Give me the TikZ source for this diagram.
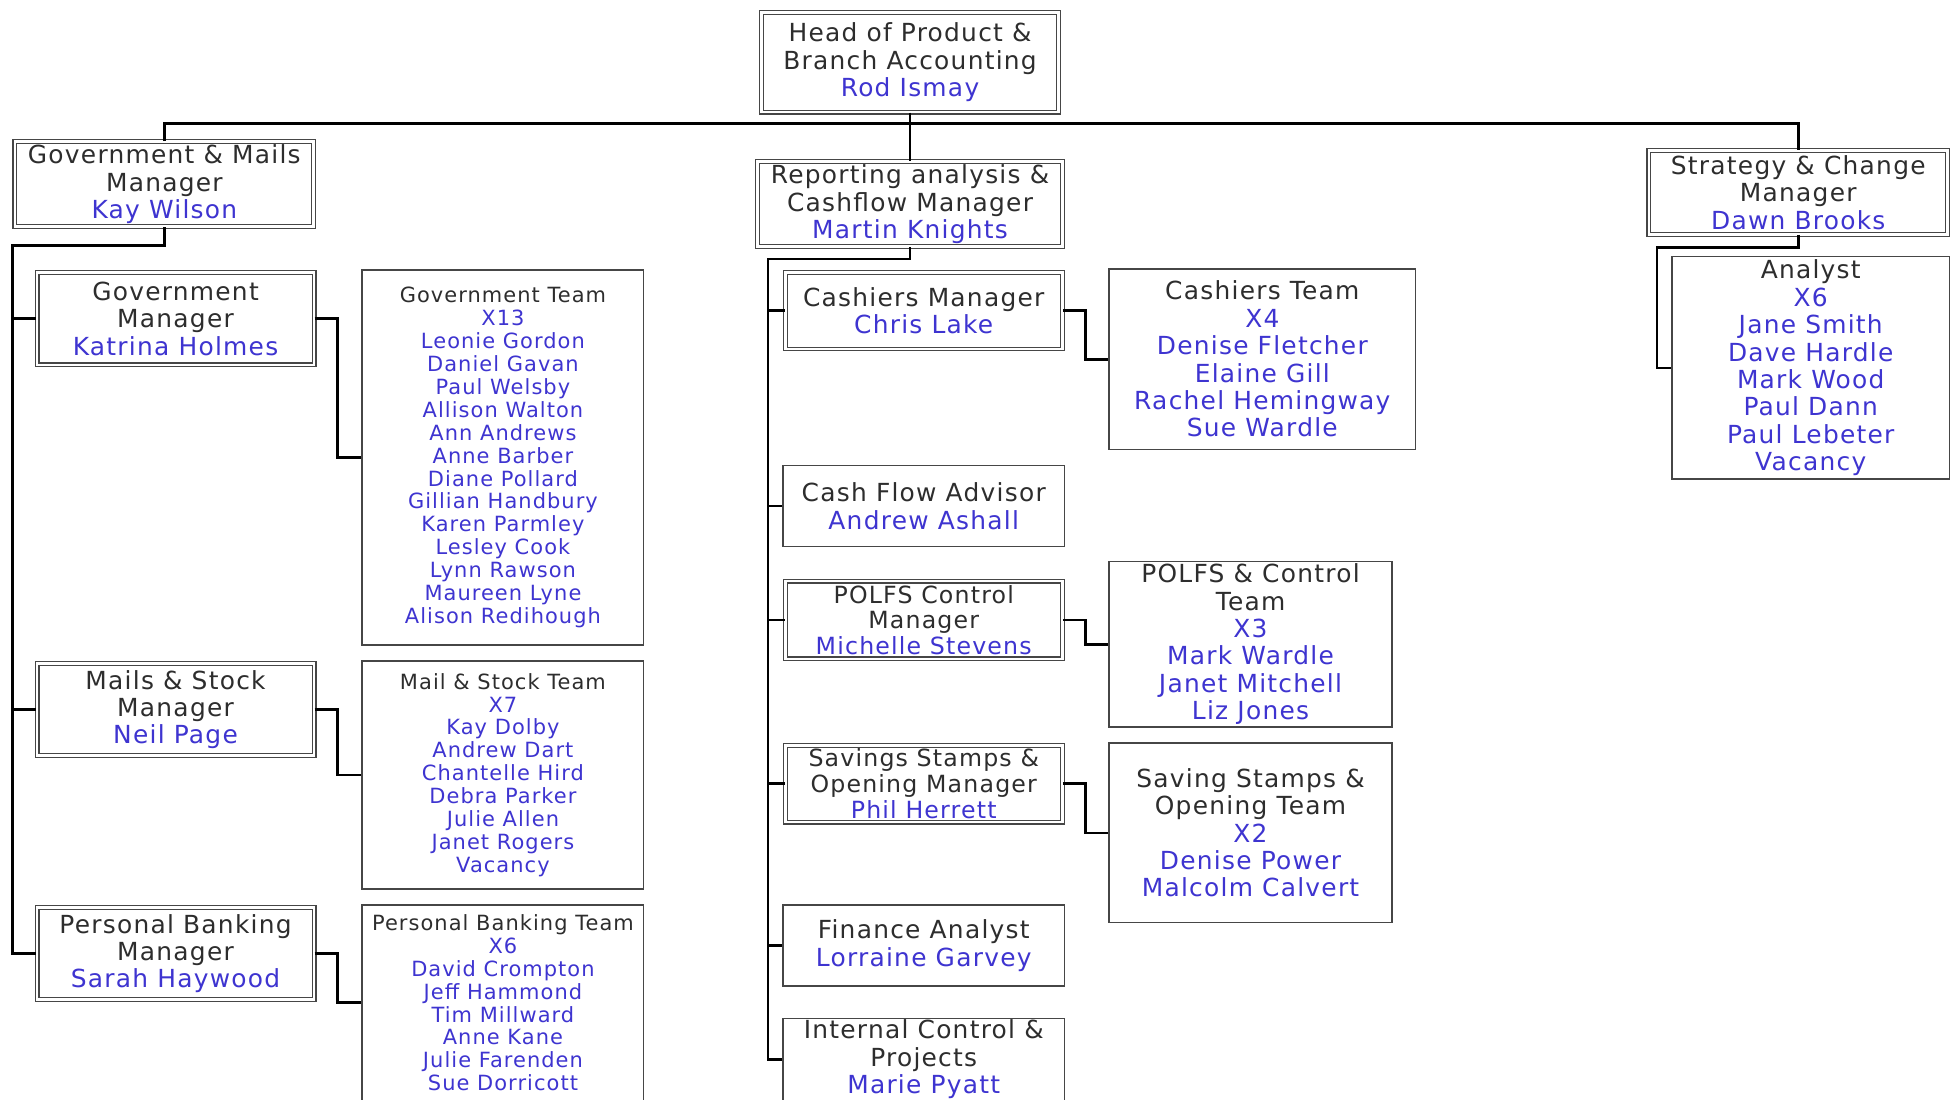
\documentclass[tikz,border=0pt]{standalone}
\usepackage{fontspec}
\setmainfont[LetterSpace=5]{DejaVu Sans}
\usetikzlibrary{positioning,calc}
\definecolor{boxgray}{RGB}{70,70,70}
\definecolor{txtgray}{RGB}{45,45,45}
\definecolor{nameblue}{RGB}{62,52,208}
\newcommand{\nm}[1]{\textcolor{nameblue}{#1}}
\newcommand{\hd}[1]{\textcolor{txtgray}{#1}}
\tikzset{
  dbox/.style={draw=boxgray, line width=0.55pt, double=white, double distance=1.3pt, align=center, inner sep=0pt, text=txtgray},
  sbox/.style={draw=boxgray, line width=0.8pt, align=center, inner sep=0pt, text=txtgray},
  team/.style={sbox, text=nameblue},
  big/.style={font=\fontsize{12}{13.2}\selectfont},
  mid/.style={font=\fontsize{11.4}{12.3}\selectfont},
  small/.style={font=\fontsize{10.1}{11.04}\selectfont},
  link/.style={line width=1.3pt, black},
}
\begin{document}
\begin{tikzpicture}[x=0.6pt, y=-0.6pt]
\useasboundingbox (0,0) rectangle (1568,883);

% top level
\node[dbox,big,minimum width=143pt,minimum height=48pt] (head) at (731,50) {Head of Product \&\\Branch Accounting\\\nm{Rod Ismay}};
\node[dbox,big,minimum width=144pt,minimum height=41pt] (gm) at (132,148) {Government \& Mails\\Manager\\\nm{Kay Wilson}};
\node[dbox,big,minimum width=147pt,minimum height=41pt] (rep) at (731,164) {Reporting analysis \&\\Cashflow Manager\\\nm{Martin Knights}};
\node[dbox,big,minimum width=144pt,minimum height=40.5pt] (sc) at (1444.5,154.5) {Strategy \& Change\\Manager\\\nm{Dawn Brooks}};

% government and mails
\node[dbox,big,minimum width=133.5pt,minimum height=44.5pt] (g1) at (141,256) {Government\\Manager\\\nm{Katrina Holmes}};
\node[dbox,big,minimum width=133.5pt,minimum height=44.5pt] (g2) at (141,570) {Mails \& Stock\\Manager\\\nm{Neil Page}};
\node[dbox,big,minimum width=133.5pt,minimum height=44.5pt] (g3) at (141,766) {Personal Banking\\Manager\\\nm{Sarah Haywood}};

\node[team,small,minimum width=135.6pt,minimum height=180.6pt] (t1) at (404,367.5) {\hd{Government Team}\\X13\\Leonie Gordon\\Daniel Gavan\\Paul Welsby\\Allison Walton\\Ann Andrews\\Anne Barber\\Diane Pollard\\Gillian Handbury\\Karen Parmley\\Lesley Cook\\Lynn Rawson\\Maureen Lyne\\Alison Redihough};
\node[team,small,minimum width=135.6pt,minimum height=109.8pt] (t2) at (404,622.5) {\hd{Mail \& Stock Team}\\X7\\Kay Dolby\\Andrew Dart\\Chantelle Hird\\Debra Parker\\Julie Allen\\Janet Rogers\\Vacancy};
\node[team,small,minimum width=135.6pt,minimum height=94.2pt] (t3) at (404,805.5) {\hd{Personal Banking Team}\\X6\\David Crompton\\Jeff Hammond\\Tim Millward\\Anne Kane\\Julie Farenden\\Sue Dorricott};

% reporting and cashflow
\node[dbox,big,minimum width=133.5pt,minimum height=37pt] (c1) at (742,249.5) {Cashiers Manager\\\nm{Chris Lake}};
\node[sbox,big,minimum width=135.6pt,minimum height=39pt] (c2) at (742,406.5) {Cash Flow Advisor\\\nm{Andrew Ashall}};
\node[dbox,mid,minimum width=133.5pt,minimum height=37.5pt] (c3) at (742,498) {POLFS Control\\Manager\\\nm{Michelle Stevens}};
\node[dbox,mid,minimum width=133.5pt,minimum height=37pt] (c4) at (742,629.5) {Savings Stamps \&\\Opening Manager\\\nm{Phil Herrett}};
\node[sbox,big,minimum width=135.6pt,minimum height=39pt] (c5) at (742,759.5) {Finance Analyst\\\nm{Lorraine Garvey}};
\node[sbox,big,minimum width=135.6pt,minimum height=39.6pt] (c6) at (742,851) {Internal Control \&\\Projects\\\nm{Marie Pyatt}};

\node[team,big,minimum width=147.6pt,minimum height=87pt] (ct1) at (1014,288.5) {\hd{Cashiers Team}\\X4\\Denise Fletcher\\Elaine Gill\\Rachel Hemingway\\Sue Wardle};
\node[team,big,minimum width=136.2pt,minimum height=79.8pt] (ct3) at (1004.5,517.5) {\hd{POLFS \& Control}\\\hd{Team}\\X3\\Mark Wardle\\Janet Mitchell\\Liz Jones};
\node[team,big,minimum width=136.2pt,minimum height=86.4pt] (ct4) at (1004.5,669) {\hd{Saving Stamps \&}\\\hd{Opening Team}\\X2\\Denise Power\\Malcolm Calvert};

% strategy and change
\node[team,big,minimum width=133.8pt,minimum height=107.4pt] (an) at (1454.5,295.5) {\hd{Analyst}\\X6\\Jane Smith\\Dave Hardle\\Mark Wood\\Paul Dann\\Paul Lebeter\\Vacancy};

% lines
\coordinate (bus) at (731,99);
\coordinate (lt) at (10,197);
\coordinate (mt) at (617,208);
\coordinate (rt) at (1331,199);

\draw[link] (gm.north) |- (bus) -| (sc.north);
\draw[link] (head.south) -- (rep.north);

\draw[link] (gm.south) |- (lt) |- (g3.west);
\draw[link] (lt) |- (g1.west);
\draw[link] (lt) |- (g2.west);
\draw[link] (g1.east) -- ++(11pt,0) |- (t1.west);
\draw[link] (g2.east) -- ++(11pt,0) |- (t2.west);
\draw[link] (g3.east) -- ++(11pt,0) |- (t3.west);

\draw[link] (rep.south) |- (mt) |- (c6.west);
\draw[link] (mt) |- (c1.west);
\draw[link] (mt) |- (c2.west);
\draw[link] (mt) |- (c3.west);
\draw[link] (mt) |- (c4.west);
\draw[link] (mt) |- (c5.west);
\draw[link] (c1.east) -- ++(11pt,0) |- (ct1.west);
\draw[link] (c3.east) -- ++(11pt,0) |- (ct3.west);
\draw[link] (c4.east) -- ++(11pt,0) |- (ct4.west);

\draw[link] (sc.south) |- (rt) |- (an.west);
\end{tikzpicture}
\end{document}
